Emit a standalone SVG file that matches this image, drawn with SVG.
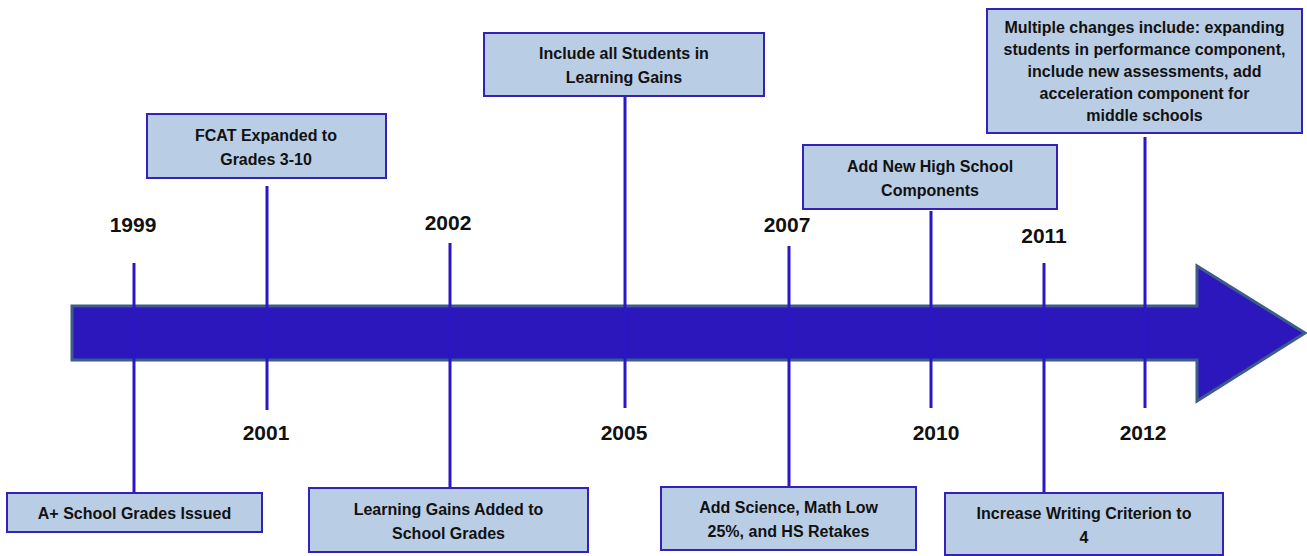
<svg xmlns="http://www.w3.org/2000/svg" width="1307" height="556" viewBox="0 0 1307 556">
<style>
.box{fill:#B9CDE5;stroke:#3321B8;stroke-width:2}
.lbl{font-family:"Liberation Sans",Arial,sans-serif;font-weight:bold;font-size:16px;fill:#111;text-anchor:middle}
.yr{font-family:"Liberation Sans",Arial,sans-serif;font-weight:bold;font-size:21px;fill:#111;text-anchor:middle}
.ln{stroke:#2B17C4;stroke-width:3;fill:none}
</style>
<rect width="1307" height="556" fill="#fff"/>
<g id="timeline-arrow">
<path d="M72,306 L1197,306 L1197,266 L1305,333 L1197,401 L1197,360 L72,360 Z" fill="#2B17BC" stroke="#3D5C8A" stroke-width="3" stroke-linejoin="miter"/>
</g>
<g id="connectors">
<line class="ln" x1="134" y1="263" x2="134" y2="492"/>
<line class="ln" x1="267" y1="186" x2="267" y2="410"/>
<line class="ln" x1="450" y1="243" x2="450" y2="488"/>
<line class="ln" x1="625" y1="96" x2="625" y2="408"/>
<line class="ln" x1="789" y1="246" x2="789" y2="487"/>
<line class="ln" x1="931" y1="211" x2="931" y2="408"/>
<line class="ln" x1="1044" y1="263" x2="1044" y2="493"/>
<line class="ln" x1="1145" y1="137" x2="1145" y2="408"/>
</g>
<g id="years">
<text class="yr" x="133" y="232">1999</text>
<text class="yr" x="266" y="440">2001</text>
<text class="yr" x="448" y="230">2002</text>
<text class="yr" x="624" y="440">2005</text>
<text class="yr" x="787" y="232">2007</text>
<text class="yr" x="936" y="440">2010</text>
<text class="yr" x="1044" y="243">2011</text>
<text class="yr" x="1143" y="440">2012</text>
</g>
<g id="node-1999">
<rect class="box" x="7" y="493" width="255" height="39"/>
<text class="lbl" x="134.5" y="519">A+ School Grades Issued</text>
</g>
<g id="node-2001">
<rect class="box" x="147" y="114" width="239" height="64"/>
<text class="lbl" x="266" y="141">FCAT Expanded to</text>
<text class="lbl" x="266" y="165">Grades 3-10</text>
</g>
<g id="node-2002">
<rect class="box" x="309" y="488" width="279" height="64"/>
<text class="lbl" x="448.5" y="515">Learning Gains Added to</text>
<text class="lbl" x="448.5" y="539">School Grades</text>
</g>
<g id="node-2005">
<rect class="box" x="484" y="33" width="280" height="63"/>
<text class="lbl" x="624" y="59">Include all Students in</text>
<text class="lbl" x="624" y="83">Learning Gains</text>
</g>
<g id="node-2007">
<rect class="box" x="661" y="487" width="255" height="63"/>
<text class="lbl" x="788.5" y="513">Add Science, Math Low</text>
<text class="lbl" x="788.5" y="537">25%, and HS Retakes</text>
</g>
<g id="node-2010">
<rect class="box" x="803" y="145" width="254" height="64"/>
<text class="lbl" x="930" y="172">Add New High School</text>
<text class="lbl" x="930" y="196">Components</text>
</g>
<g id="node-2011">
<rect class="box" x="945" y="493" width="278" height="62"/>
<text class="lbl" x="1084" y="519">Increase Writing Criterion to</text>
<text class="lbl" x="1084" y="543">4</text>
</g>
<g id="node-2012">
<rect class="box" x="987" y="9" width="315" height="124"/>
<text class="lbl" x="1144.5" y="33">Multiple changes include: expanding</text>
<text class="lbl" x="1144.5" y="55">students in performance component,</text>
<text class="lbl" x="1144.5" y="77">include new assessments, add</text>
<text class="lbl" x="1144.5" y="99">acceleration component for</text>
<text class="lbl" x="1144.5" y="121">middle schools</text>
</g>
</svg>
